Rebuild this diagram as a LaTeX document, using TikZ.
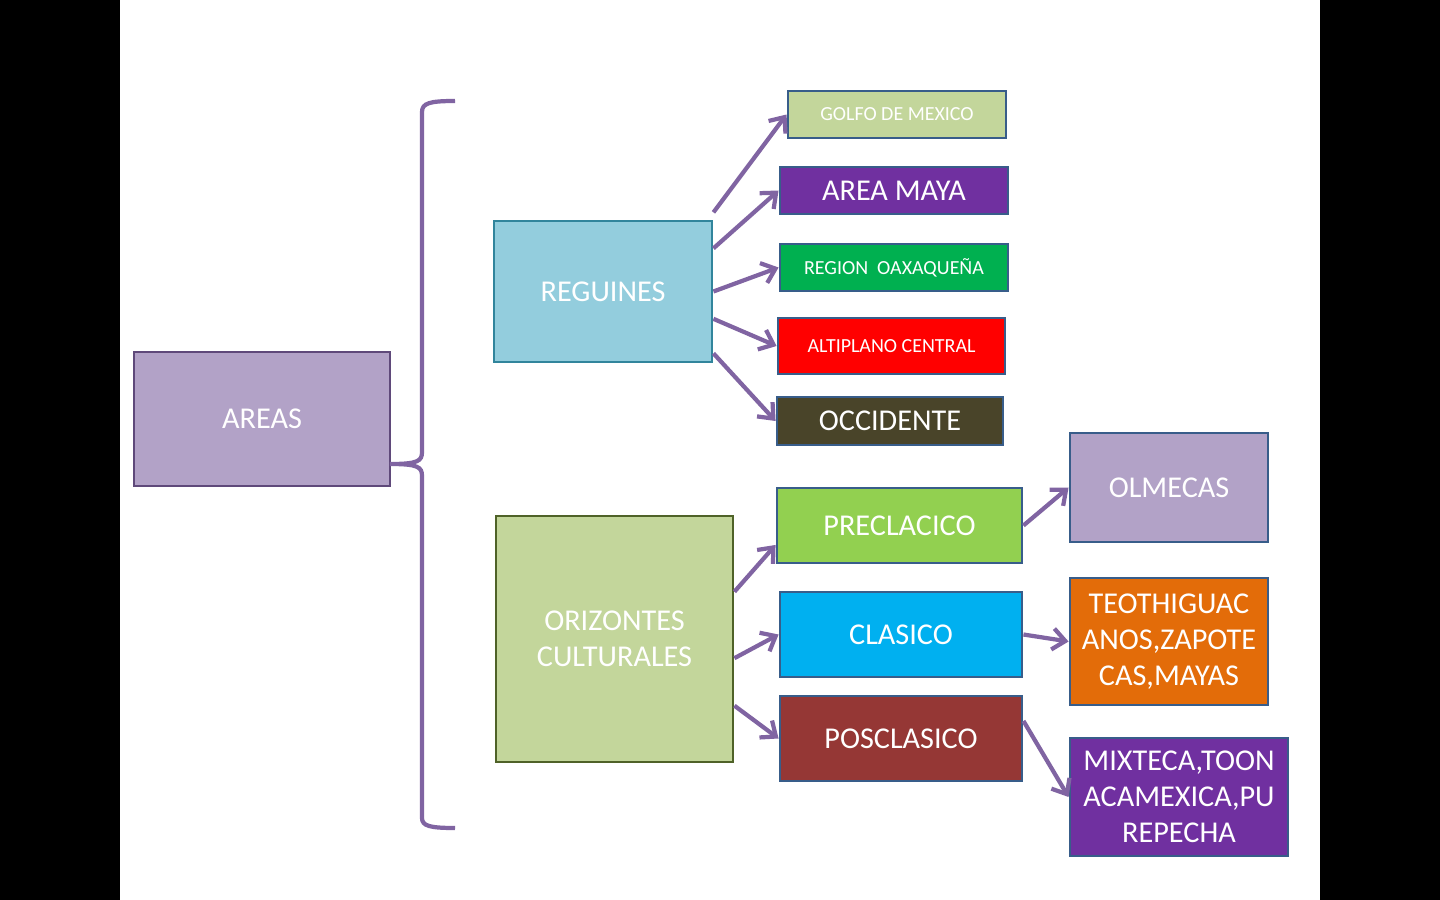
\documentclass[tikz,border=0pt]{standalone}
\usepackage{fontspec}
\setmainfont{Carlito}
\usepackage{tikz}
\usetikzlibrary{arrows.meta}
\usetikzlibrary{calc}
\definecolor{lila}{HTML}{8064A2}
\definecolor{lilaclaro}{HTML}{B2A2C7}
\definecolor{lilaborde}{HTML}{5F497A}
\definecolor{azulborde}{HTML}{385D8A}
\definecolor{celeste}{HTML}{93CDDD}
\definecolor{celesteborde}{HTML}{31859C}
\definecolor{verdeclaro}{HTML}{C3D69B}
\definecolor{verdeborde}{HTML}{4F6228}
\definecolor{morado}{HTML}{7030A0}
\definecolor{verde}{HTML}{00B050}
\definecolor{cafe}{HTML}{494429}
\definecolor{lima}{HTML}{92D050}
\definecolor{cielo}{HTML}{00B0F0}
\definecolor{vino}{HTML}{953735}
\definecolor{naranja}{HTML}{E36C09}
\tikzset{
  caja/.style={draw=azulborde, line width=2pt, text=white, inner sep=0pt, align=center,
    font=\fontsize{21.5}{25.6}\selectfont},
  chica/.style={font=\fontsize{14.2}{17}\selectfont},
  flecha/.style={draw=lila, line width=3pt, -{Straight Barb[length=9pt,width=15pt]}},
}

\begin{document}
\begin{tikzpicture}[x=0.025cm, y=-0.025cm]
\useasboundingbox (0,0) rectangle (1440,900);
\fill[black] (0,0) rectangle (1440,900);
\fill[white] (120,0) rectangle (1320,900);
% primer nivel
\node[caja, fill=lilaclaro, draw=lilaborde, minimum width=6.4cm, minimum height=3.35cm] (areas) at (262,419) {AREAS};
\draw[lila, line width=3pt] (455,101) .. controls (430,101) and (422,103) .. (422,112) -- (422,452)
  .. controls (422,461) and (418,464) .. (390,464)
  .. controls (418,464) and (422,467) .. (422,476) -- (422,818)
  .. controls (422,826) and (430,828) .. (455,828);
% regiones
\node[caja, fill=celeste, draw=celesteborde, minimum width=5.45cm, minimum height=3.525cm] (reg) at (603,291.5) {REGUINES};
\node[caja, chica, fill=verdeclaro, minimum width=5.45cm, minimum height=1.175cm] (golfo) at (897,114.5) {GOLFO DE MEXICO};
\node[caja, fill=morado, minimum width=5.7cm, minimum height=1.175cm] (maya) at (894,190.5) {AREA MAYA};
\node[caja, chica, fill=verde, minimum width=5.7cm, minimum height=1.175cm] (oax) at (894,267.5) {\raisebox{-3pt}{REGION\ \ OAXAQUEÑA}};
\node[caja, chica, fill=red, minimum width=5.675cm, minimum height=1.4cm] (alti) at (891.5,346) {ALTIPLANO CENTRAL};
\node[caja, fill=cafe, minimum width=5.65cm, minimum height=1.2cm] (occ) at (890,421) {OCCIDENTE};
\draw[flecha] ($(reg.north east)!-0.05!(reg.south east)$) -- (golfo.west);
\draw[flecha] ($(reg.north east)!0.2!(reg.south east)$) -- (maya.west);
\draw[flecha] (reg.east) -- (oax.west);
\draw[flecha] ($(reg.north east)!0.69!(reg.south east)$) -- (alti.west);
\draw[flecha] ($(reg.north east)!0.93!(reg.south east)$) -- (occ.west);
% horizontes
\node[caja, fill=verdeclaro, draw=verdeborde, minimum width=5.925cm, minimum height=6.15cm] (ori) at (614.5,639) {ORIZONTES\\CULTURALES};
\node[caja, fill=lima, minimum width=6.125cm, minimum height=1.875cm] (pre) at (899.5,525.5) {PRECLACICO};
\node[caja, fill=cielo, minimum width=6.05cm, minimum height=2.125cm] (cla) at (901,634.5) {CLASICO};
\node[caja, fill=vino, minimum width=6.05cm, minimum height=2.125cm] (pos) at (901,738.5) {POSCLASICO};
\node[caja, fill=lilaclaro, minimum width=4.95cm, minimum height=2.725cm] (olm) at (1169,487.5) {OLMECAS};
\node[caja, fill=naranja, minimum width=4.95cm, minimum height=3.175cm] (teo) at (1169,641.5) {TEOTHIGUAC\\ANOS,ZAPOTE\\CAS,MAYAS};
\node[caja, fill=morado, minimum width=5.45cm, minimum height=2.95cm] (mix) at (1179,797) {MIXTECA,TOON\\ACAMEXICA,PU\\REPECHA};
\draw[flecha] ($(ori.north east)!0.31!(ori.south east)$) -- ($(pre.north west)!0.75!(pre.south west)$);
\draw[flecha] ($(ori.north east)!0.577!(ori.south east)$) -- (cla.west);
\draw[flecha] ($(ori.north east)!0.768!(ori.south east)$) -- (pos.west);
\draw[flecha] (pre.east) -- (olm.west);
\draw[flecha] (cla.east) -- (teo.west);
\draw[flecha] ($(pos.north east)!0.3!(pos.south east)$) -- (mix.west);
\end{tikzpicture}
\end{document}
